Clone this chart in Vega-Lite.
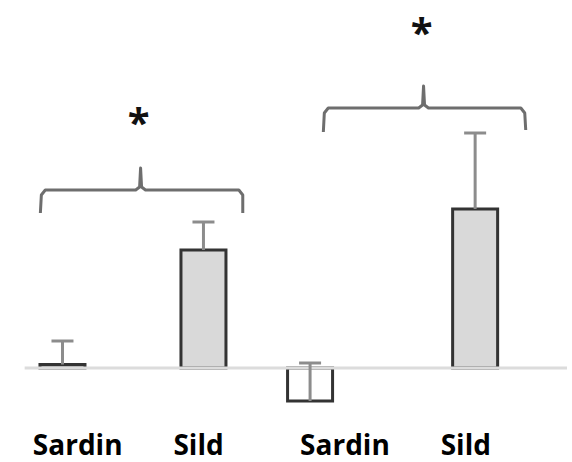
{
  "$schema": "https://vega.github.io/schema/vega-lite/v6.json",
  "width": 572,
  "height": 462,
  "padding": 0,
  "background": "white",
  "config": {"view": {"stroke": null}},
  "datasets": {
    "bars": [
      {"fish": "Sardin", "pos": 5.85, "value": 0.35, "upper": 2.7, "labelPos": 7.4},
      {"fish": "Sild", "pos": 20.2, "value": 11.8, "upper": 14.6, "labelPos": 19.7},
      {"fish": "Sardin", "pos": 31.05, "value": -3.3, "upper": 0.5, "labelPos": 34.6},
      {"fish": "Sild", "pos": 47.85, "value": 15.9, "upper": 23.5, "labelPos": 46.9}
    ],
    "braces": [
      {"brace": 1, "o": 1, "x": 3.6, "y": 15.5},
      {"brace": 1, "o": 2, "x": 3.7, "y": 17.3},
      {"brace": 1, "o": 3, "x": 4.1, "y": 17.8},
      {"brace": 1, "o": 4, "x": 13.3, "y": 17.8},
      {"brace": 1, "o": 5, "x": 13.7, "y": 18.1},
      {"brace": 1, "o": 6, "x": 13.8, "y": 20.0},
      {"brace": 1, "o": 7, "x": 13.9, "y": 18.1},
      {"brace": 1, "o": 8, "x": 14.3, "y": 17.8},
      {"brace": 1, "o": 9, "x": 23.8, "y": 17.8},
      {"brace": 1, "o": 10, "x": 24.2, "y": 17.3},
      {"brace": 1, "o": 11, "x": 24.2, "y": 15.5},
      {"brace": 2, "o": 1, "x": 32.4, "y": 23.6},
      {"brace": 2, "o": 2, "x": 32.5, "y": 25.5},
      {"brace": 2, "o": 3, "x": 32.9, "y": 26.0},
      {"brace": 2, "o": 4, "x": 42.1, "y": 26.0},
      {"brace": 2, "o": 5, "x": 42.5, "y": 26.3},
      {"brace": 2, "o": 6, "x": 42.6, "y": 28.2},
      {"brace": 2, "o": 7, "x": 42.7, "y": 26.3},
      {"brace": 2, "o": 8, "x": 43.1, "y": 26.0},
      {"brace": 2, "o": 9, "x": 52.5, "y": 26.0},
      {"brace": 2, "o": 10, "x": 52.9, "y": 25.5},
      {"brace": 2, "o": 11, "x": 53.0, "y": 23.8}
    ],
    "stars": [
      {"x": 13.6, "y": 23.15, "t": "*"},
      {"x": 42.4, "y": 32.15, "t": "*"}
    ]
  },
  "layer": [
    {
      "data": {"name": "bars"},
      "mark": {"type": "bar", "size": 45, "stroke": "#333333", "strokeWidth": 3},
      "encoding": {
        "x": {"field": "pos", "type": "quantitative", "scale": {"domain": [0, 57.2], "nice": false, "zero": false}, "axis": null},
        "y": {"field": "value", "type": "quantitative", "scale": {"domain": [-9.4, 36.8], "nice": false, "zero": false}, "axis": null},
        "y2": {"datum": 0},
        "fill": {"field": "fish", "type": "nominal", "scale": {"domain": ["Sardin", "Sild"], "range": ["#ffffff", "#d9d9d9"]}, "legend": null}
      }
    },
    {
      "data": {"values": [{"x0": 2.0, "x1": 57.2, "y0": 0}]},
      "mark": {"type": "rule", "color": "#dcdcdc", "strokeWidth": 3},
      "encoding": {
        "x": {"field": "x0", "type": "quantitative"},
        "x2": {"field": "x1"},
        "y": {"field": "y0", "type": "quantitative"}
      }
    },
    {
      "data": {"name": "bars"},
      "mark": {"type": "rule", "color": "#8c8c8c", "strokeWidth": 3},
      "encoding": {
        "x": {"field": "pos", "type": "quantitative"},
        "y": {"field": "value", "type": "quantitative"},
        "y2": {"field": "upper"}
      }
    },
    {
      "data": {"name": "bars"},
      "mark": {"type": "tick", "orient": "horizontal", "color": "#8c8c8c", "size": 22, "thickness": 3, "opacity": 1},
      "encoding": {
        "x": {"field": "pos", "type": "quantitative"},
        "y": {"field": "upper", "type": "quantitative"}
      }
    },
    {
      "data": {"name": "braces"},
      "mark": {"type": "line", "color": "#6e6e6e", "strokeWidth": 3, "strokeJoin": "round", "strokeCap": "butt"},
      "encoding": {
        "x": {"field": "x", "type": "quantitative"},
        "y": {"field": "y", "type": "quantitative"},
        "detail": {"field": "brace", "type": "nominal"},
        "order": {"field": "o", "type": "quantitative"}
      }
    },
    {
      "data": {"name": "stars"},
      "mark": {"type": "text", "font": "Open Sans", "fontWeight": "bold", "fontSize": 40, "baseline": "alphabetic", "color": "#111111"},
      "encoding": {
        "x": {"field": "x", "type": "quantitative"},
        "y": {"field": "y", "type": "quantitative"},
        "text": {"field": "t"}
      }
    },
    {
      "data": {"name": "bars"},
      "mark": {"type": "text", "font": "Open Sans", "fontWeight": "bold", "fontSize": 28, "baseline": "alphabetic", "color": "#000000"},
      "encoding": {
        "x": {"field": "labelPos", "type": "quantitative"},
        "y": {"datum": -8.7},
        "text": {"field": "fish"}
      }
    }
  ]
}
